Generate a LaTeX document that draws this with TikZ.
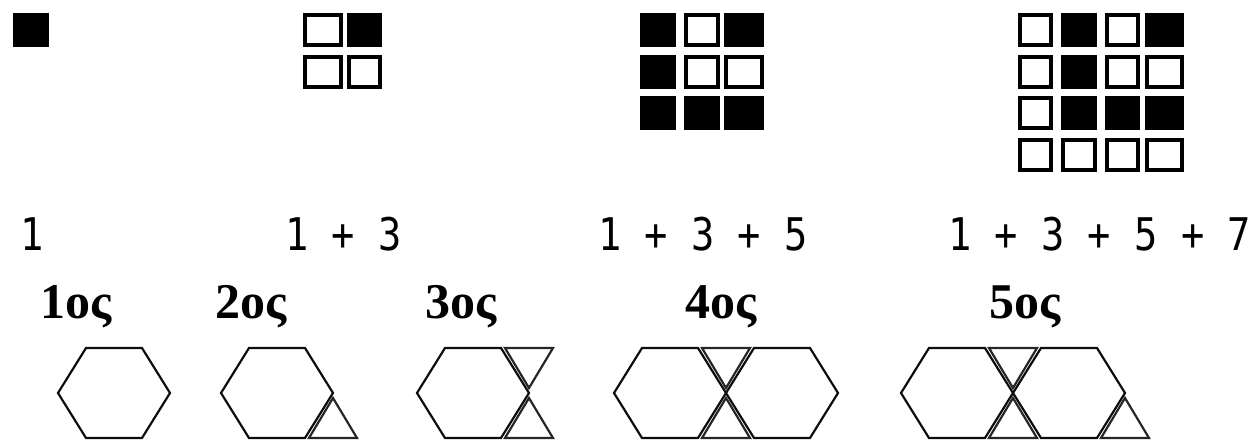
\documentclass[tikz,border=0pt]{standalone}
\usepackage{fontspec}
\setmainfont{Liberation Serif}
\newfontfamily\pixfont[FakeStretch=0.86]{DejaVu Sans Mono}
\newcommand\bsq[4]{\fill[black] (#1,#2) rectangle (#3,#4);}
\newcommand\wsq[4]{\draw[black,line width=4pt] (#1+2,#2+2) rectangle (#3-2,#4-2);}
\newcommand\hexat[1]{\draw[hexline] (#1,393) -- ++(28,-45) -- ++(56,0) -- ++(28,45) -- ++(-28,45) -- ++(-56,0) -- cycle;}
\newcommand\triup[1]{\draw[triline] (#1-24,438) -- (#1+24,438) -- (#1,398) -- cycle;}
\newcommand\tridown[1]{\draw[triline] (#1-24,348) -- (#1+24,348) -- (#1,388) -- cycle;}
\begin{document}
\begin{tikzpicture}[x=1pt,y=-1pt,
  hexline/.style={draw=black!95,line width=2.2pt,line join=miter},
  triline/.style={draw=black!85,line width=2.2pt,line join=miter},
  expr/.style={anchor=base,inner sep=0pt,font=\pixfont\fontsize{45}{45}\selectfont},
  lbl/.style={anchor=base,inner sep=0pt,font=\fontsize{50}{50}\selectfont\bfseries}]
\useasboundingbox (0,0) rectangle (1259,447);
% 1
\bsq{13}{13}{49}{47}
% 2x2
\wsq{303}{13}{343}{47}\bsq{347}{13}{382}{47}
\wsq{303}{55}{343}{89}\wsq{347}{55}{382}{89}
% 3x3
\bsq{640}{13}{676}{47}\wsq{684}{13}{720}{47}\bsq{724}{13}{764}{47}
\bsq{640}{55}{676}{89}\wsq{684}{55}{720}{89}\wsq{724}{55}{764}{89}
\bsq{640}{96}{676}{130}\bsq{684}{96}{720}{130}\bsq{724}{96}{764}{130}
% 4x4
\wsq{1018}{13}{1053}{47}\bsq{1061}{13}{1097}{47}\wsq{1105}{13}{1140}{47}\bsq{1145}{13}{1184}{47}
\wsq{1018}{55}{1053}{89}\bsq{1061}{55}{1097}{89}\wsq{1105}{55}{1140}{89}\wsq{1145}{55}{1184}{89}
\wsq{1018}{96}{1053}{130}\bsq{1061}{96}{1097}{130}\bsq{1105}{96}{1140}{130}\bsq{1145}{96}{1184}{130}
\wsq{1018}{138}{1053}{172}\wsq{1061}{138}{1097}{172}\wsq{1105}{138}{1140}{172}\wsq{1145}{138}{1184}{172}
% sums
\node[expr] (e1) at (32,250) {1};
\node[expr] (e2) at (343.5,250) {1 + 3};
\node[expr] (e3) at (703,250) {1 + 3 + 5};
\node[expr] (e4) at (1099.5,250) {1 + 3 + 5 + 7};
% labels
\node[lbl] (l1) at (76,318) {1ος};
\node[lbl] (l2) at (251,318) {2ος};
\node[lbl] (l3) at (461,318) {3ος};
\node[lbl] (l4) at (721,318) {4ος};
\node[lbl] (l5) at (1025,318) {5ος};
% hexagon figures
\hexat{58}
\hexat{221}\triup{333}
\hexat{417}\triup{529}\tridown{529}
\hexat{614}\triup{726}\tridown{726}\hexat{726}
\hexat{901}\triup{1013}\tridown{1013}\hexat{1013}\triup{1125}
\end{tikzpicture}
\end{document}
